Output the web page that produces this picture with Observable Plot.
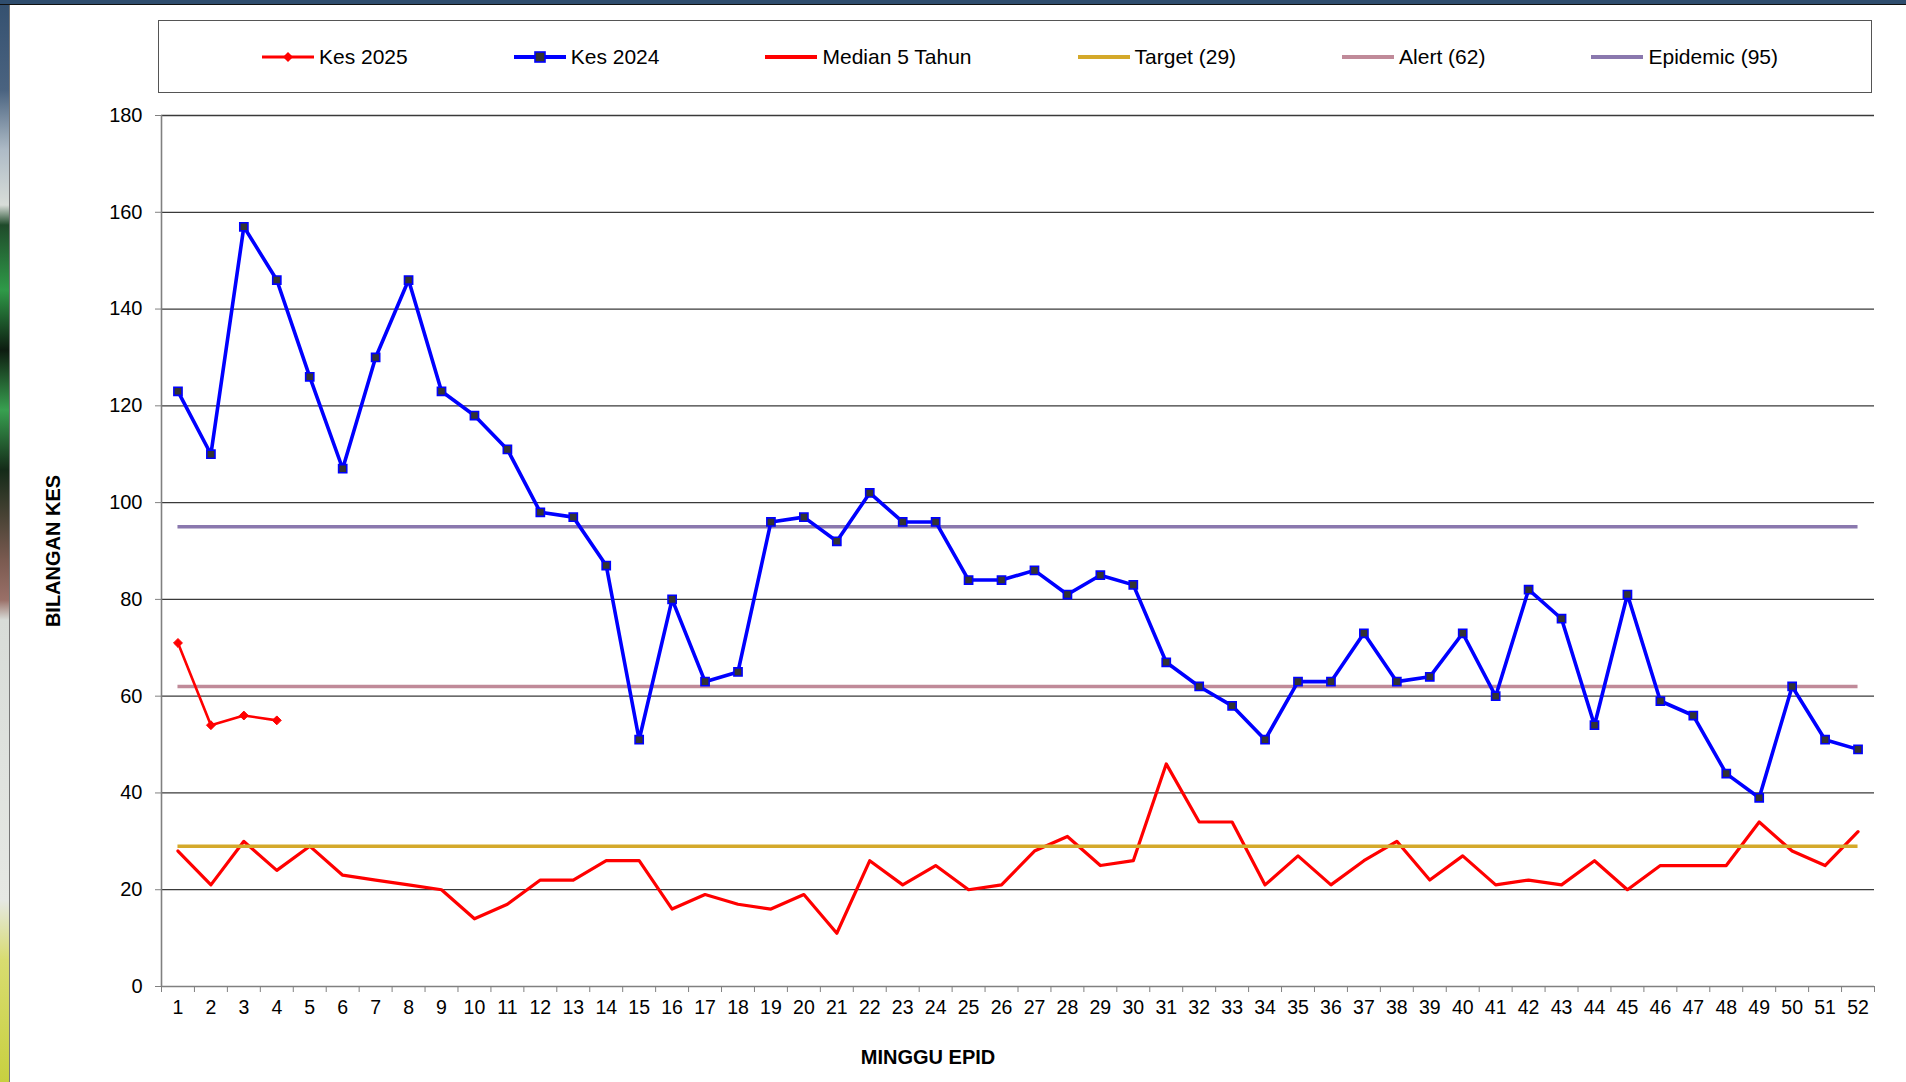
<!DOCTYPE html>
<html>
<head>
<meta charset="utf-8">
<script src="https://cdn.jsdelivr.net/npm/d3@7"></script>
<script src="https://cdn.jsdelivr.net/npm/@observablehq/plot@0.6"></script>
<style>
html,body{margin:0;padding:0;}
body{width:1906px;height:1082px;overflow:hidden;position:relative;background:#fff;font-family:"Liberation Sans",Arial,sans-serif;}
#topbar{position:absolute;left:0;top:0;width:1906px;height:4px;background:#2f4d6e;border-bottom:1px solid #111;z-index:2;}
#leftbar{position:absolute;left:0;top:0;width:9px;height:1082px;border-right:1px solid #777;
 background:linear-gradient(to bottom,#34506f 0px,#4a6380 90px,#aebbc6 150px,#d8ddd8 205px,#1f4a2a 225px,#2f9a48 290px,#0d1c10 350px,#38a050 410px,#142a18 470px,#7a5a50 560px,#9a7068 600px,#d8dcd8 620px,#e6e8e4 900px,#d8dc70 960px,#c8d040 1082px);}
#legend{position:absolute;left:158px;top:20px;width:1714px;height:73px;border:1px solid #555;display:flex;align-items:center;justify-content:center;gap:106px;font-size:21px;color:#000;box-sizing:border-box;padding-left:10px;}
.item{display:flex;align-items:center;gap:5px;white-space:nowrap;}
#chart{position:absolute;left:0;top:0;}
</style>
</head>
<body>
<div id="topbar"></div>
<div id="leftbar"></div>
<div id="chart"></div>
<div id="legend"></div>
<script>
// ---- data ----
const weeks = [1,2,3,4,5,6,7,8,9,10,11,12,13,14,15,16,17,18,19,20,21,22,23,24,25,26,27,28,29,30,31,32,33,34,35,36,37,38,39,40,41,42,43,44,45,46,47,48,49,50,51,52];
const kes2024 = [123,110,157,146,126,107,130,146,123,118,111,98,97,87,51,80,63,65,96,97,92,102,96,96,84,84,86,81,85,83,67,62,58,51,63,63,73,63,64,73,60,82,76,54,81,59,56,44,39,62,51,49];
const kes2025 = [71,54,56,55];
const median5 = [28,21,30,24,29,23,22,21,20,14,17,22,22,26,26,16,19,17,16,19,11,26,21,25,20,21,28,31,25,26,46,34,34,21,27,21,26,30,22,27,21,22,21,26,20,25,25,25,34,28,25,32];
const target = 29, alert = 62, epidemic = 95;
const yTicks = [0,20,40,60,80,100,120,140,160,180];
const seriesNames = ["Kes 2025","Kes 2024","Median 5 Tahun","Target (29)","Alert (62)","Epidemic (95)"];
const xTitle = "MINGGU EPID", yTitle = "BILANGAN KES";

const C = {k25:"#ff0000", k24:"#0000ff", med:"#ff0000", target:"#d4a92a", alert:"#c08a99", epi:"#8a78ae"};

const rows = weeks.map((w,i)=>({week:w, kes2024:kes2024[i], median:median5[i]}));
const rows25 = kes2025.map((v,i)=>({week:weeks[i], kes2025:v}));
const boundaries = weeks.map(w=>w-0.5).concat([weeks[weeks.length-1]+0.5]);

const chart = Plot.plot({
  width:1906, height:1082,
  marginLeft:161, marginRight:32, marginTop:115, marginBottom:96,
  style:{background:"transparent", fontFamily:"'Liberation Sans', Arial, sans-serif", color:"#000", overflow:"visible"},
  x:{type:"linear", domain:[boundaries[0], boundaries[boundaries.length-1]]},
  y:{domain:[0,180]},
  marks:[
    Plot.ruleY(yTicks.filter(d=>d>0), {stroke:"#3a3a3a", strokeWidth:1.3}),
    Plot.ruleY([0], {stroke:"#808080", strokeWidth:1.6}),
    Plot.ruleX([boundaries[0]], {y1:0, y2:180, stroke:"#808080", strokeWidth:1.6}),
    Plot.axisY({ticks:yTicks, tickSize:6, tickPadding:13, fontSize:20, stroke:"#808080", label:null}),
    Plot.axisX({ticks:weeks, tickSize:0, tickPadding:14, fontSize:19.5, tickFormat:d=>String(d), label:null}),
    Plot.axisX({ticks:boundaries, tickSize:6, tickFormat:()=>"", stroke:"#808080", label:null}),
    Plot.ruleY([epidemic], {x1:weeks[0], x2:weeks[weeks.length-1], stroke:C.epi, strokeWidth:3.5}),
    Plot.ruleY([alert], {x1:weeks[0], x2:weeks[weeks.length-1], stroke:C.alert, strokeWidth:3.5}),
    Plot.line(rows, {x:"week", y:"median", stroke:C.med, strokeWidth:3.2}),
    Plot.ruleY([target], {x1:weeks[0], x2:weeks[weeks.length-1], stroke:C.target, strokeWidth:3.5}),
    Plot.line(rows, {x:"week", y:"kes2024", stroke:C.k24, strokeWidth:3.6}),
    Plot.dot(rows, {x:"week", y:"kes2024", symbol:"square", r:4.6, fill:"#333333", stroke:C.k24, strokeWidth:1.6}),
    Plot.line(rows25, {x:"week", y:"kes2025", stroke:C.k25, strokeWidth:2.6}),
    Plot.dot(rows25, {x:"week", y:"kes2025", symbol:"diamond2", r:4, fill:C.k25, stroke:C.k25, strokeWidth:1}),
    Plot.text([yTitle], {frameAnchor:"left", rotate:-90, dx:-108, textAnchor:"middle", lineAnchor:"middle", fontSize:20, fontWeight:"bold"}),
    Plot.text([xTitle], {frameAnchor:"bottom", dx:-90, dy:71, textAnchor:"middle", lineAnchor:"middle", fontSize:20, fontWeight:"bold"})
  ]
});
document.getElementById("chart").appendChild(chart);

// ---- legend ----
function swatch(kind){
  const w=52,h=16,m=h/2;
  if(kind===0) return `<svg width="${w}" height="${h}"><line x1="0" x2="${w}" y1="${m}" y2="${m}" stroke="${C.k25}" stroke-width="3"/><path d="M${w/2},${m-5}L${w/2+5},${m}L${w/2},${m+5}L${w/2-5},${m}Z" fill="${C.k25}"/></svg>`;
  if(kind===1) return `<svg width="${w}" height="${h}"><line x1="0" x2="${w}" y1="${m}" y2="${m}" stroke="${C.k24}" stroke-width="4"/><rect x="${w/2-5}" y="${m-5}" width="10" height="10" fill="#333" stroke="${C.k24}" stroke-width="1.6"/></svg>`;
  const col=[null,null,C.med,C.target,C.alert,C.epi][kind];
  return `<svg width="${w}" height="${h}"><line x1="0" x2="${w}" y1="${m}" y2="${m}" stroke="${col}" stroke-width="4"/></svg>`;
}
document.getElementById("legend").innerHTML = seriesNames.map((n,i)=>`<div class="item">${swatch(i)}<span>${n}</span></div>`).join("");
</script>
</body>
</html>
